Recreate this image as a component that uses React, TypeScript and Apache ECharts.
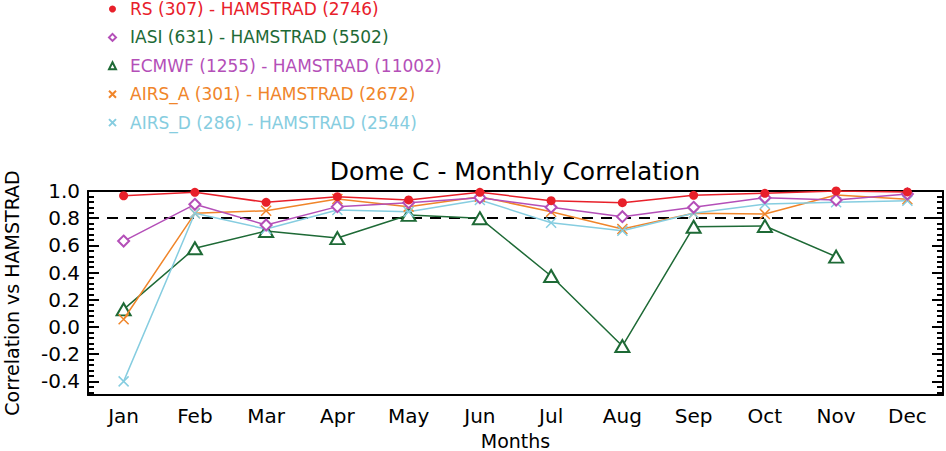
import React, { useEffect, useRef } from "react";
import * as echarts from "echarts";

const months = ["Jan", "Feb", "Mar", "Apr", "May", "Jun", "Jul", "Aug", "Sep", "Oct", "Nov", "Dec"];
const rsValues = [0.965, 0.99, 0.917, 0.958, 0.934, 0.99, 0.929, 0.914, 0.968, 0.983, 1.0, 0.993];
const iasiValues = [0.632, 0.902, 0.75, 0.885, 0.914, 0.951, 0.88, 0.811, 0.88, 0.951, 0.934, 0.978];
const ecmwfValues: (number | null)[] = [0.13, 0.579, 0.706, 0.654, 0.824, 0.8, 0.375, -0.14, 0.737, 0.743, 0.517, null];
const airsAValues = [0.057, 0.836, 0.855, 0.941, 0.885, 0.958, 0.848, 0.72, 0.836, 0.831, 0.97, 0.939];
const airsDValues = [-0.4, 0.836, 0.72, 0.86, 0.848, 0.934, 0.767, 0.708, 0.836, 0.904, 0.917, 0.929];
const seriesNames = [
  "RS (307) - HAMSTRAD (2746)",
  "IASI (631) - HAMSTRAD (5502)",
  "ECMWF (1255) - HAMSTRAD (11002)",
  "AIRS_A (301) - HAMSTRAD (2672)",
  "AIRS_D (286) - HAMSTRAD (2544)",
];
const majorTicks = [-0.4, -0.2, 0.0, 0.2, 0.4, 0.6, 0.8, 1.0];
const minorTicks = [
  -0.48, -0.44, -0.36, -0.32, -0.28, -0.24, -0.16, -0.12, -0.08, -0.04,
  0.04, 0.08, 0.12, 0.16, 0.24, 0.28, 0.32, 0.36, 0.44, 0.48, 0.52, 0.56,
  0.64, 0.68, 0.72, 0.76, 0.84, 0.88, 0.92, 0.96,
];
const thresholdValue = 0.8;

const RED = "#e8202a";
const MAGENTA = "#b44fb8";
const GREEN = "#1e6a36";
const ORANGE = "#f0852a";
const CYAN = "#86cde0";
const XPATH = "path://M0,0L10,10M0,10L10,0";
const FONT = "DejaVu Sans";

export default function App() {
  const ref = useRef<HTMLDivElement>(null);
  useEffect(() => {
    if (!ref.current) return;
    const chart = echarts.init(ref.current, undefined, { renderer: "svg" });
    const yBase = { type: "value", min: -0.5, max: 1.0, splitLine: { show: false } };
    const xLine = { onZero: false, lineStyle: { color: "#000", width: 2 } };
    chart.setOption({
      animation: false,
      backgroundColor: "#fff",
      textStyle: { fontFamily: FONT },
      title: {
        text: "Dome C - Monthly Correlation",
        left: 515,
        textAlign: "center",
        top: 159,
        padding: 0,
        textStyle: { fontFamily: FONT, fontSize: 25, fontWeight: "normal", color: "#000" },
      },
      legend: {
        orient: "vertical",
        left: 108,
        top: 0,
        padding: 0,
        itemGap: 10.4,
        itemWidth: 7,
        itemHeight: 7,
        textStyle: { fontFamily: FONT, fontSize: 17, lineHeight: 18, padding: [0, 0, 0, 9] },
        data: [
          { name: seriesNames[0], icon: "circle", textStyle: { color: RED } },
          { name: seriesNames[1], icon: "emptyDiamond", textStyle: { color: GREEN } },
          { name: seriesNames[2], icon: "emptyTriangle", textStyle: { color: MAGENTA } },
          { name: seriesNames[3], icon: XPATH, textStyle: { color: ORANGE } },
          { name: seriesNames[4], icon: XPATH, textStyle: { color: CYAN } },
        ],
      },
      grid: { left: 88, right: 3, top: 191, bottom: 56, containLabel: false, outerBoundsMode: "none" },
      xAxis: [
        {
          type: "category",
          data: months,
          position: "bottom",
          name: "Months",
          nameLocation: "middle",
          nameGap: 36,
          nameMoveOverlap: false,
          nameTextStyle: { fontFamily: FONT, fontSize: 19, color: "#000" },
          axisLine: xLine,
          axisTick: { inside: true, length: 6, interval: 0, lineStyle: { color: "#000", width: 2 } },
          axisLabel: { fontFamily: FONT, fontSize: 20, color: "#000", margin: 11, interval: 0 },
        },
        {
          type: "category",
          data: months,
          position: "top",
          axisLine: xLine,
          axisTick: { inside: true, length: 6, interval: 0, lineStyle: { color: "#000", width: 2 } },
          axisLabel: { show: false },
        },
      ],
      yAxis: [
        {
          ...yBase,
          position: "left",
          name: "Correlation vs HAMSTRAD",
          nameLocation: "middle",
          nameGap: 67,
          nameMoveOverlap: false,
          nameTextStyle: { fontFamily: FONT, fontSize: 19, color: "#000" },
          axisLine: { show: true, lineStyle: { color: "#000", width: 2 } },
          axisTick: { show: true, inside: true, length: 11, customValues: majorTicks, lineStyle: { color: "#000", width: 2 } },
          axisLabel: {
            show: true,
            customValues: majorTicks,
            formatter: (v: number) => v.toFixed(1),
            fontFamily: FONT,
            fontSize: 20,
            color: "#000",
            margin: 8,
          },
        },
        {
          ...yBase,
          position: "left",
          axisLine: { show: false },
          axisTick: { show: true, inside: true, length: 6, customValues: minorTicks, lineStyle: { color: "#000", width: 2 } },
          axisLabel: { show: false },
        },
        {
          ...yBase,
          position: "right",
          axisLine: { show: true, lineStyle: { color: "#000", width: 2 } },
          axisTick: { show: true, inside: true, length: 11, customValues: majorTicks, lineStyle: { color: "#000", width: 2 } },
          axisLabel: { show: false },
        },
        {
          ...yBase,
          position: "right",
          axisLine: { show: false },
          axisTick: { show: true, inside: true, length: 6, customValues: minorTicks, lineStyle: { color: "#000", width: 2 } },
          axisLabel: { show: false },
        },
      ],
      series: [
        {
          name: seriesNames[0],
          type: "line",
          data: rsValues,
          symbol: "circle",
          symbolSize: 9,
          itemStyle: { color: RED },
          lineStyle: { color: RED, width: 1.5 },
          z: 5,
          markLine: {
            silent: true,
            symbol: "none",
            label: { show: false },
            lineStyle: { color: "#000", type: [11, 8], width: 2 },
            data: [{ yAxis: thresholdValue }],
            z: 1,
          },
        },
        {
          name: seriesNames[1],
          type: "line",
          data: iasiValues,
          symbol: "emptyDiamond",
          symbolSize: 11,
          itemStyle: { color: MAGENTA, borderWidth: 1.5 },
          lineStyle: { color: MAGENTA, width: 1.5 },
          z: 4,
        },
        {
          name: seriesNames[2],
          type: "line",
          data: ecmwfValues,
          symbol: "emptyTriangle",
          symbolSize: [14, 12],
          itemStyle: { color: GREEN, borderWidth: 1.5 },
          lineStyle: { color: GREEN, width: 1.5 },
          z: 2,
        },
        {
          name: seriesNames[3],
          type: "line",
          data: airsAValues,
          symbol: XPATH,
          symbolSize: 10,
          itemStyle: { color: ORANGE, borderColor: ORANGE, borderWidth: 1.5 },
          lineStyle: { color: ORANGE, width: 1.5 },
          z: 3,
        },
        {
          name: seriesNames[4],
          type: "line",
          data: airsDValues,
          symbol: XPATH,
          symbolSize: 10,
          itemStyle: { color: CYAN, borderColor: CYAN, borderWidth: 1.5 },
          lineStyle: { color: CYAN, width: 1.5 },
          z: 3,
        },
      ],
    });
    return () => chart.dispose();
  }, []);
  return (
    <div
      ref={ref}
      style={{ position: "fixed", left: 0, top: 0, width: 946, height: 451, background: "#fff" }}
    />
  );
}
